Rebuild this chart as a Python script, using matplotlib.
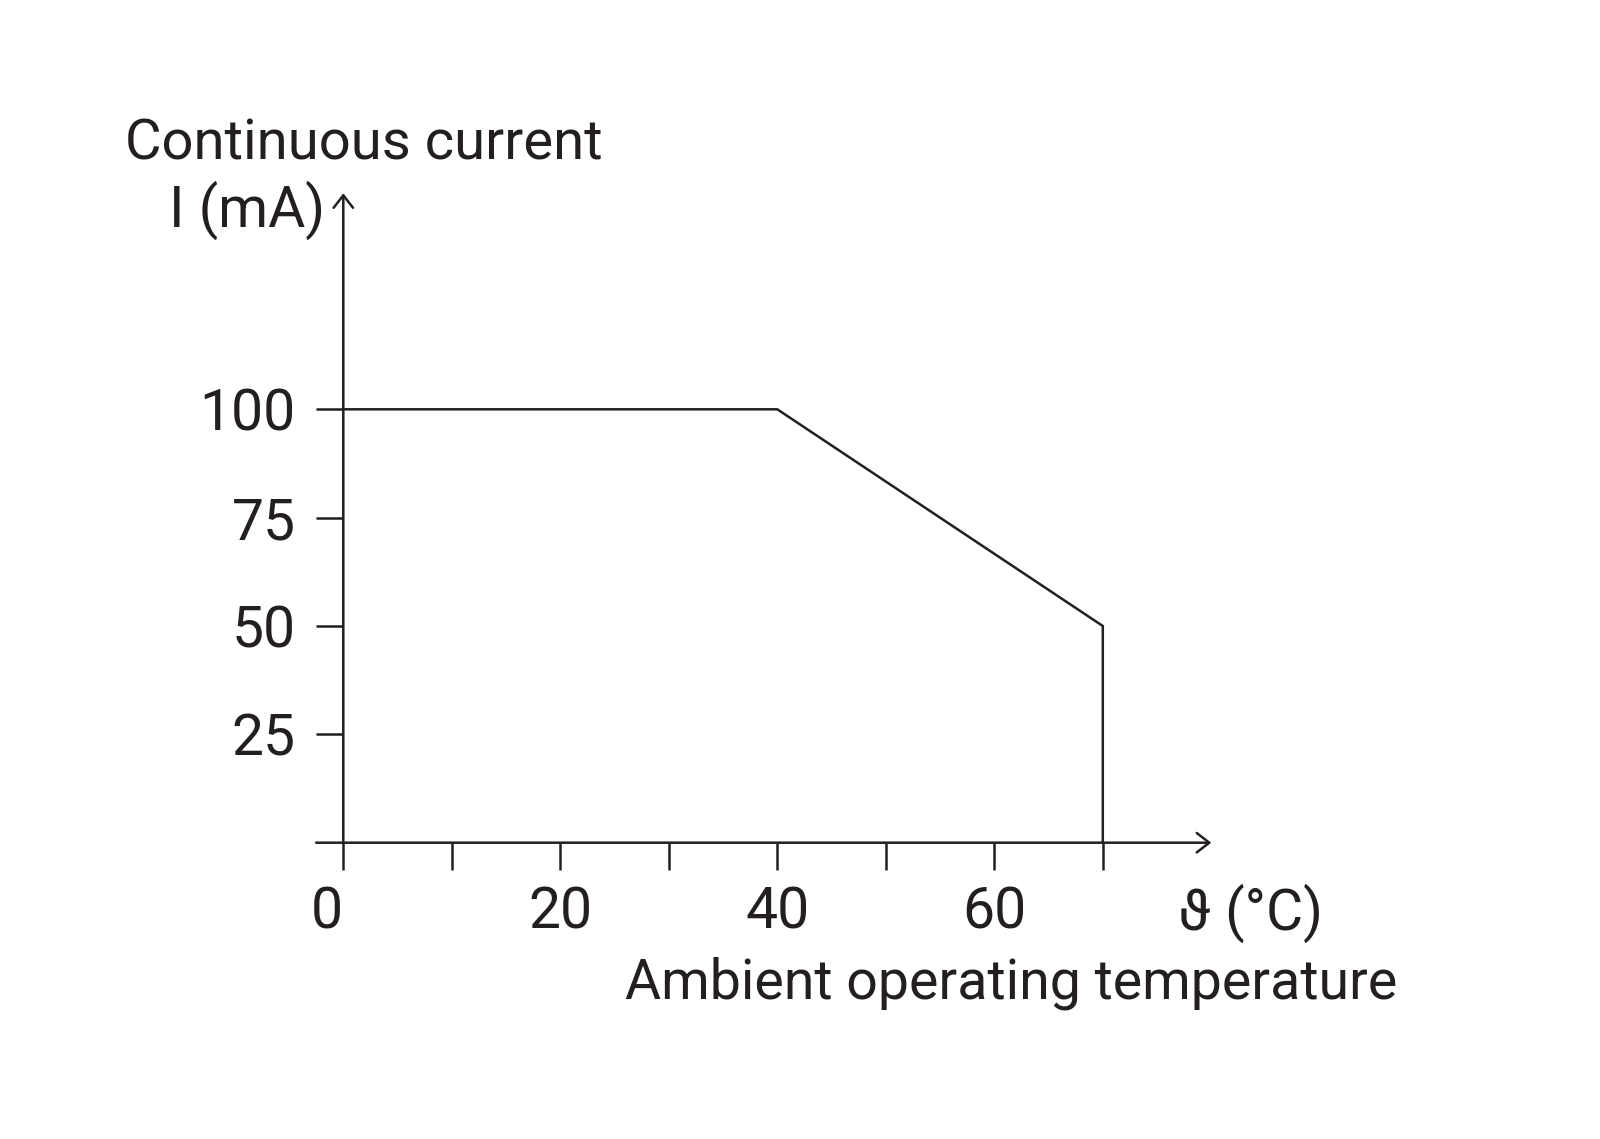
import matplotlib
matplotlib.use("Agg")
from matplotlib import pyplot as plt

# derating curve: continuous current vs ambient temperature
temp = [0, 40, 70, 70]
current = [100, 100, 50, 0]

x_ticks = [0, 10, 20, 30, 40, 50, 60, 70]
x_labels = ['0', '', '20', '', '40', '', '60', '']
y_ticks = [25, 50, 75, 100]
y_labels = ['25', '50', '75', '100']

ink = '#231f20'
fam = ['Roboto', 'DejaVu Sans']
fs = 41

plt.rcParams['font.family'] = fam

fig = plt.figure(figsize=(16, 11.39), dpi=100)
ax = fig.add_axes([0.19422, 0.26014, 0.56284, 0.57076])
ax.set_xlim(-3, 80)
ax.set_ylim(0, 150)

for s in ax.spines.values():
    s.set_visible(False)
ax.spines['left'].set_position(('data', 0))
ax.spines['bottom'].set_position(('data', 0))

# axes with open arrow heads
arrow = dict(arrowstyle='->,head_length=0.9,head_width=0.7', lw=1.8, color=ink,
             shrinkA=0, shrinkB=0)
ax.annotate('', xy=(80, 0), xytext=(-2.5, 0), arrowprops=arrow, annotation_clip=False)
ax.annotate('', xy=(0, 149.85), xytext=(0, 0), arrowprops=arrow, annotation_clip=False)

ax.plot(temp, current, color=ink, lw=1.8, solid_joinstyle='miter', clip_on=False)

ax.set_xticks(x_ticks, x_labels)
ax.set_yticks(y_ticks, y_labels)
ax.tick_params(axis='both', direction='out', length=19.3, width=1.8, color=ink,
               labelcolor=ink, labelsize=fs)
ax.tick_params(axis='x', pad=11.5)
ax.tick_params(axis='y', pad=15)
ax.get_xticklabels()[0].set_horizontalalignment('right')

H = 1139.0
fig.text(125 / 1600, 1 - 160 / H, 'Continuous current', fontsize=40.5, color=ink,
         ha='left', va='baseline')
fig.text(325 / 1600, 1 - 226.7 / H, 'I (mA)', fontsize=fs, color=ink,
         ha='right', va='baseline')
fig.text(1178 / 1600, 1 - 930 / H, 'ϑ (°C)', fontsize=fs, color=ink,
         ha='left', va='baseline')
fig.text(625 / 1600, 1 - 998 / H, 'Ambient operating temperature', fontsize=40,
         color=ink, ha='left', va='baseline')

fig.savefig('out.png', dpi=100, facecolor='white')
